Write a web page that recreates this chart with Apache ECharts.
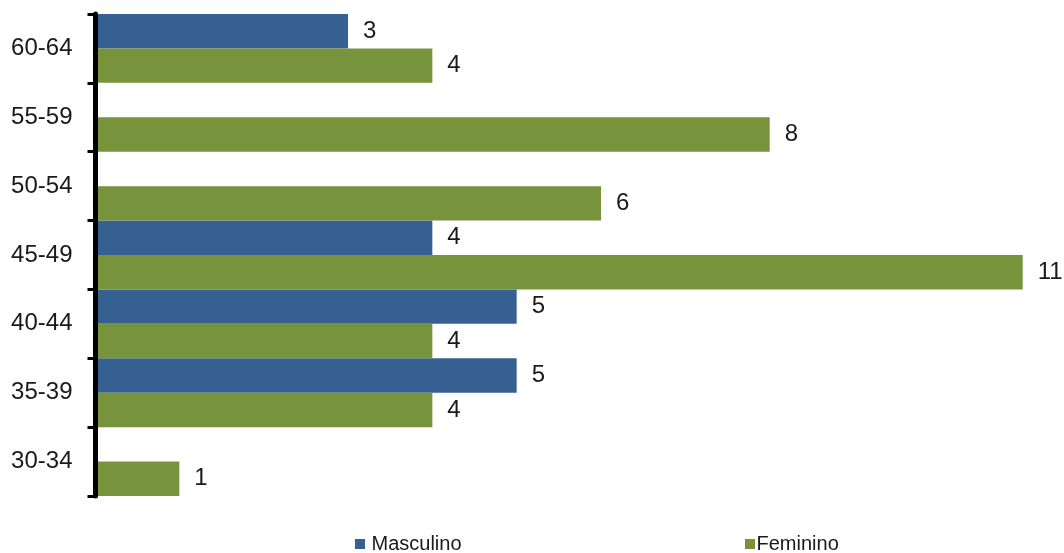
<!DOCTYPE html>
<html>
<head>
<meta charset="utf-8">
<script src="https://cdn.jsdelivr.net/npm/echarts@6/dist/echarts.min.js"></script>
<style>
  html, body { margin: 0; padding: 0; background: #fff; }
  #chart { width: 1064px; height: 553px; }
</style>
</head>
<body>
<div id="chart"></div>
<script>
// Age groups, bottom to top
const ageGroups = ['30-34', '35-39', '40-44', '45-49', '50-54', '55-59', '60-64'];
// Counts per group (null = no bar)
const masculino = [null, 5, 5, 4, null, null, 3];
const feminino = [1, 4, 4, 11, 6, 8, 4];

const FONT = '"Liberation Sans", Arial, sans-serif';
const BLUE = '#376092';
const GREEN = '#77933c';
const TEXT = '#1a1a1a';

const labelStyle = {
  show: true,
  position: 'right',
  distance: 15,
  color: TEXT,
  fontFamily: FONT,
  fontSize: 24
};

const legendBase = {
  top: 534, padding: 0, icon: 'rect',
  itemWidth: 10, itemHeight: 10, itemGap: 0
};

const chart = echarts.init(document.getElementById('chart'), null, { renderer: 'canvas' });
chart.setOption({
  animation: false,
  backgroundColor: '#fff',
  grid: { left: 95, top: 14, width: 927.7, height: 482, containLabel: false },
  legend: [
    Object.assign({}, legendBase, {
      data: ['Masculino'], left: 355,
      textStyle: { fontFamily: FONT, fontSize: 20, color: TEXT, padding: [0, 0, 0, 1.5] }
    }),
    Object.assign({}, legendBase, {
      data: ['Feminino'], left: 745,
      textStyle: { fontFamily: FONT, fontSize: 20, color: TEXT, padding: [0, 0, 0, -3.5] }
    })
  ],
  xAxis: {
    type: 'value', min: 0, max: 11, show: false
  },
  yAxis: {
    type: 'category',
    data: ageGroups,
    offset: 2.5,
    z: 5,
    axisLine: { show: true, lineStyle: { color: '#000', width: 5 } },
    axisTick: { show: true, length: 7.5, lineStyle: { color: '#000', width: 3 } },
    axisLabel: { margin: 20, color: TEXT, fontFamily: FONT, fontSize: 24 },
    splitLine: { show: false }
  },
  series: [
    {
      name: 'Masculino', type: 'bar', data: masculino,
      barGap: '0%', barCategoryGap: '0%',
      itemStyle: { color: BLUE },
      label: labelStyle
    },
    {
      name: 'Feminino', type: 'bar', data: feminino,
      barGap: '0%', barCategoryGap: '0%',
      itemStyle: { color: GREEN },
      label: labelStyle
    }
  ]
});
</script>
</body>
</html>
